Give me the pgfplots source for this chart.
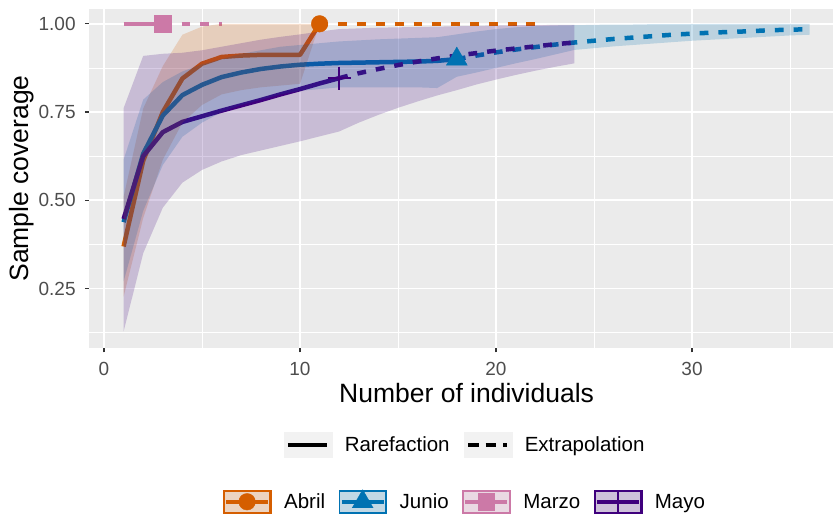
\documentclass[border=0pt]{standalone}
\usepackage{fontspec}
\setmainfont{Liberation Sans}
\usepackage{pgfplots}
\pgfplotsset{compat=1.18}
\usepackage{pgfplotstable}
\usepgfplotslibrary{fillbetween}

\definecolor{cAbril}{HTML}{D55E00}
\definecolor{cJunio}{HTML}{0072B2}
\definecolor{cMarzo}{HTML}{CC79A7}
\definecolor{cMayo}{HTML}{3F007D}
\definecolor{panel}{HTML}{EBEBEB}
\definecolor{keybg}{HTML}{F2F2F2}
\definecolor{tickgrey}{HTML}{4D4D4D}
\definecolor{tickmark}{HTML}{333333}

% coverage estimate (y) with lower/upper confidence bounds
\pgfplotstableread{
x  y     lo    hi
1  0.369 0.227 0.510
2  0.612 0.450 0.760
3  0.750 0.615 0.880
4  0.845 0.720 0.969
5  0.887 0.770 0.992
6  0.906 0.800 1.000
7  0.910 0.812 1.000
8  0.912 0.820 1.000
9  0.912 0.825 1.000
10 0.912 0.830 1.000
11 1.000 1.000 1.000
12 1.000 1.000 1.000
13 1.000 1.000 1.000
14 1.000 1.000 1.000
15 1.000 1.000 1.000
16 1.000 1.000 1.000
17 1.000 1.000 1.000
18 1.000 1.000 1.000
19 1.000 1.000 1.000
20 1.000 1.000 1.000
21 1.000 1.000 1.000
22 1.000 1.000 1.000
}\abril

\pgfplotstableread{
x  y     lo    hi
1  0.438 0.270 0.615
2  0.632 0.470 0.785
3  0.740 0.600 0.835
4  0.798 0.680 0.865
5  0.827 0.720 0.885
6  0.849 0.750 0.900
7  0.862 0.770 0.915
8  0.872 0.785 0.925
9  0.879 0.800 0.935
10 0.884 0.810 0.940
11 0.887 0.815 0.945
12 0.889 0.820 0.950
13 0.890 0.820 0.953
14 0.891 0.820 0.956
15 0.892 0.820 0.958
16 0.893 0.820 0.960
17 0.895 0.818 0.962
18 0.900 0.850 0.970
19 0.910 0.862 0.978
20 0.919 0.875 0.985
21 0.927 0.888 0.990
22 0.934 0.900 0.993
23 0.941 0.913 0.995
24 0.947 0.926 0.996
25 0.952 0.931 0.997
26 0.957 0.936 0.998
27 0.961 0.940 0.998
28 0.965 0.944 0.999
29 0.969 0.948 0.999
30 0.972 0.952 0.999
31 0.975 0.955 1.000
32 0.977 0.958 1.000
33 0.979 0.961 1.000
34 0.982 0.964 1.000
35 0.983 0.967 1.000
36 0.985 0.969 1.000
}\junio

\pgfplotstableread{
x  y     lo    hi
1  1.000 1.000 1.000
2  1.000 1.000 1.000
3  1.000 1.000 1.000
4  1.000 1.000 1.000
5  1.000 1.000 1.000
6  1.000 1.000 1.000
}\marzo

\pgfplotstableread{
x  y     lo    hi
1  0.447 0.128 0.761
2  0.625 0.350 0.909
3  0.693 0.479 0.915
4  0.722 0.550 0.918
5  0.738 0.586 0.925
6  0.754 0.610 0.935
7  0.769 0.628 0.945
8  0.784 0.641 0.955
9  0.800 0.654 0.963
10 0.815 0.667 0.970
11 0.831 0.681 0.978
12 0.846 0.695 0.985
13 0.860 0.720 0.987
14 0.872 0.742 0.989
15 0.883 0.762 0.990
16 0.893 0.780 0.991
17 0.902 0.797 0.992
18 0.910 0.812 0.993
19 0.917 0.828 0.994
20 0.924 0.842 0.995
21 0.930 0.855 0.996
22 0.936 0.867 0.996
23 0.942 0.878 0.997
24 0.947 0.888 0.997
}\mayo

\pgfplotsset{
  panelsize/.style={scale only axis, width=754.6pt, height=339.2pt},
  rare/.style={line width=4.5pt, line join=round},
  extra/.style={line width=4.5pt, dash pattern=on 8.8pt off 10pt},
  band/.style={forget plot, fill=#1, fill opacity=0.2, draw=none},
  groupkey/.style 2 args={legend image code/.code={
      \fill[keybg] (0pt,-11.65pt) rectangle (47.7pt,11.65pt);
      \fill[#1, fill opacity=0.2] (0pt,-11.65pt) rectangle (47.7pt,11.65pt);
      \draw[#1, line width=1.6pt] (0.8pt,-10.85pt) rectangle (46.9pt,10.85pt);
      \draw[#1, line width=4pt] (3pt,0pt) -- (44.7pt,0pt);
      \draw[#1, fill=#1, #2] plot coordinates {(23.85pt,0pt)};
  }},
}

\begin{document}
\begin{tikzpicture}
\begin{axis}[
  panelsize,
  set layers,
  fill between/on layer=main,
  xmin=-0.75, xmax=37.75, ymin=0.0815, ymax=1.0425,
  axis background/.style={fill=panel},
  axis line style={draw=none},
  xtick={0,10,20,30}, xticklabels={0,10,20,30},
  ytick={0.25,0.5,0.75,1}, yticklabels={0.25,0.50,0.75,1.00},
  minor xtick={5,15,25,35}, minor ytick={0.125,0.375,0.625,0.875},
  grid=both,
  major grid style={draw=white, line width=1.6pt},
  minor grid style={draw=white, line width=0.8pt},
  tick pos=left, tick align=outside,
  major tick length=4.5pt, minor tick length=0pt,
  major tick style={draw=tickmark, line width=1.1pt},
  ticklabel style={font=\fontsize{19}{19}\selectfont, text=tickgrey, inner sep=0pt},
  xticklabel style={anchor=north, yshift=-10pt},
  yticklabel style={anchor=east, xshift=-9pt},
  xlabel={Number of individuals}, ylabel={Sample coverage},
  label style={font=\fontsize{26.5}{26.5}\selectfont, inner sep=0pt},
  xlabel style={at={(axis description cs:0.5,-0.16008)}, anchor=base},
  ylabel style={at={(axis description cs:-0.08945,0.5)}, anchor=center, rotate=0},
  legend cell align=left,
  legend style={at={(axis description cs:0.4966,-0.2854)}, anchor=center,
    draw=none, fill=none, legend columns=2,
    font=\fontsize{20.5}{20.5}\selectfont, nodes={inner sep=0pt},
    /tikz/every odd column/.append style={column sep=12.5pt},
    /tikz/every even column/.append style={column sep=14pt}},
]
% observed sample sizes
\addplot[forget plot, only marks, color=cAbril, mark=*, mark size=8.3pt]
  table[x=x, y=y, restrict x to domain=10.5:11.5] {\abril};
\addplot[forget plot, only marks, color=cJunio, mark=triangle*, mark size=12pt]
  table[x=x, y=y, restrict x to domain=17.5:18.5] {\junio};
\addplot[forget plot, only marks, color=cMarzo, mark=square*, mark size=8.3pt]
  table[x=x, y=y, restrict x to domain=2.5:3.5] {\marzo};
\addplot[forget plot, only marks, color=cMayo, mark=+, mark size=11.5pt, mark options={line width=1.5pt}]
  table[x=x, y=y, restrict x to domain=11.5:12.5] {\mayo};

% rarefaction (solid) and extrapolation (dashed)
\addplot[forget plot, cAbril, rare]  table[x=x, y=y, restrict x to domain=0.5:11.01] {\abril};
\addplot[forget plot, cAbril, extra] table[x=x, y=y, restrict x to domain=10.99:22.5] {\abril};
\addplot[forget plot, cJunio, rare]  table[x=x, y=y, restrict x to domain=0.5:18.01] {\junio};
\addplot[forget plot, cJunio, extra] table[x=x, y=y, restrict x to domain=17.99:36.5] {\junio};
\addplot[forget plot, cMarzo, rare]  table[x=x, y=y, restrict x to domain=0.5:3.01] {\marzo};
\addplot[forget plot, cMarzo, extra] table[x=x, y=y, restrict x to domain=2.99:6.5] {\marzo};
\addplot[forget plot, cMayo, rare]   table[x=x, y=y, restrict x to domain=0.5:12.01] {\mayo};
\addplot[forget plot, cMayo, extra]  table[x=x, y=y, restrict x to domain=11.99:24.5] {\mayo};

% confidence bands, laid over the curves
\addplot[forget plot, draw=none, name path=aLo] table[x=x, y=lo] {\abril};
\addplot[forget plot, draw=none, name path=aHi] table[x=x, y=hi] {\abril};
\addplot[band=cAbril] fill between[of=aLo and aHi, on layer=main];
\addplot[forget plot, draw=none, name path=jLo] table[x=x, y=lo] {\junio};
\addplot[forget plot, draw=none, name path=jHi] table[x=x, y=hi] {\junio};
\addplot[band=cJunio] fill between[of=jLo and jHi, on layer=main];
\addplot[forget plot, draw=none, name path=mLo] table[x=x, y=lo] {\mayo};
\addplot[forget plot, draw=none, name path=mHi] table[x=x, y=hi] {\mayo};
\addplot[band=cMayo] fill between[of=mLo and mHi, on layer=main];

\addlegendimage{legend image code/.code={
  \fill[keybg] (0pt,-12.5pt) rectangle (48.3pt,12.5pt);
  \draw[black, line width=4pt] (4pt,0pt) -- (43.3pt,0pt);}}
\addlegendentry{Rarefaction}
\addlegendimage{legend image code/.code={
  \fill[keybg] (0pt,-12.5pt) rectangle (48.3pt,12.5pt);
  \draw[black, line width=4pt, dash pattern=on 10.5pt off 7pt] (4.4pt,0pt) -- (42.7pt,0pt);}}
\addlegendentry{Extrapolation}
\end{axis}

\begin{axis}[
  panelsize, hide axis,
  xmin=0, xmax=1, ymin=0, ymax=1,
  legend cell align=left,
  legend style={at={(axis description cs:0.4966,-0.4531)}, anchor=center,
    draw=none, fill=none, legend columns=4,
    font=\fontsize{20.5}{20.5}\selectfont, nodes={inner sep=0pt},
    /tikz/every odd column/.append style={column sep=13pt},
    /tikz/every even column/.append style={column sep=13.5pt}},
]
\addlegendimage{groupkey={cAbril}{mark=*, mark size=8.3pt}}
\addlegendentry{Abril}
\addlegendimage{groupkey={cJunio}{mark=triangle*, mark size=12pt}}
\addlegendentry{Junio}
\addlegendimage{groupkey={cMarzo}{mark=square*, mark size=8.3pt}}
\addlegendentry{Marzo}
\addlegendimage{groupkey={cMayo}{mark=|, mark size=11.65pt, line width=1.5pt}}
\addlegendentry{Mayo}
\end{axis}
\pgfresetboundingbox
\useasboundingbox (-89.3pt,-168pt) rectangle (743.7pt,348pt);
\end{tikzpicture}
\end{document}
